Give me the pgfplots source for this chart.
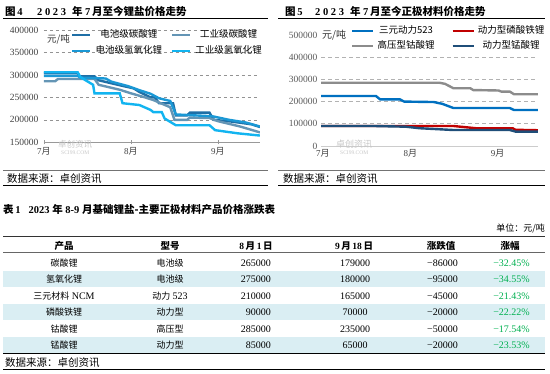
\documentclass[border=0pt]{standalone}
\usepackage{fontspec}
\setmainfont{Liberation Serif}
\newfontfamily\cjk{Noto Sans CJK SC}
\newfontfamily\wnum{Liberation Serif}[LetterSpace=25]
\usepackage{pgfplots}
\pgfplotsset{compat=1.18}
\definecolor{cA}{HTML}{1F6FA6}
\definecolor{cB}{HTML}{6495B5}
\definecolor{cC}{HTML}{1A98D5}
\definecolor{cD}{HTML}{12B4F0}
\definecolor{rA}{HTML}{0070C0}
\definecolor{rB}{HTML}{C00000}
\definecolor{rC}{HTML}{8C8C8C}
\definecolor{rD}{HTML}{1F4E79}
\definecolor{rowbg}{HTML}{DAEEF3}
\definecolor{upgreen}{HTML}{00B050}
\newcommand\zh[1]{{\cjk #1}}
\newcommand\zhb[1]{{\cjk\bfseries #1}}
\newcommand\tb{\fontsize{9}{10}\selectfont\cjk}
\newcommand\tn{\fontsize{10}{11}\selectfont}
\begin{document}
\begin{tikzpicture}[x=1pt,y=1pt]
\useasboundingbox (0,0) rectangle (550,374);
% ---------- panel titles ----------
\begin{scope}[every node/.style={inner sep=0pt,font=\fontsize{10.5}{12}\selectfont\bfseries}]
\node[anchor=base west] at (5,358) {\zhb{图}\,4};
\node[anchor=base west] at (37,358) {\wnum\bfseries 2023};
\node[anchor=base west] at (72,358) {\zhb{年}};
\node[anchor=base west] at (85,358) {7};
\node[anchor=base west] at (92,358) {\zhb{月至今锂盐价格走势}};
\node[anchor=base west] at (285,358) {\zhb{图}\,5};
\node[anchor=base west] at (315,358) {\wnum\bfseries 2023};
\node[anchor=base west] at (350,358) {\zhb{年}};
\node[anchor=base west] at (363,358) {7};
\node[anchor=base west] at (370,358) {\zhb{月至今正极材料价格走势}};
\end{scope}
\draw[black,line width=0.8pt] (3,355.7) -- (268,355.7);
\draw[black,line width=0.8pt] (278,355.7) -- (545,355.7);
% ---------- left chart ----------
\begin{axis}[
  at={(44pt,231.7pt)}, anchor=south west, scale only axis,
  width=216pt, height=112.3pt,
  xmin=0, xmax=77, ymin=150000, ymax=400000,
  scaled y ticks=false,
  axis lines*=left,
  y axis line style={draw=none},
  x axis line style={draw=gray!80, line width=0.6pt},
  ytick={150000,200000,250000,300000,350000,400000},
  yticklabels={150000,200000,250000,300000,350000,400000},
  ytick style={draw=none},
  xtick={0,31,62},
  xticklabels={7\zh{月},8\zh{月},9\zh{月}},
  xtick style={draw=gray!80, line width=0.6pt},
  tick align=center, major tick length=4pt,
  ymajorgrids,
  grid style={gray!85, line width=0.6pt, dash pattern=on 3pt off 3pt},
  yticklabel style={font=\fontsize{9.5}{10}\selectfont, text=black!75},
  xticklabel style={font=\fontsize{9}{10}\selectfont, text=black!75},
  legend columns=2,
  legend style={at={(axis description cs:0.125,1.005)}, anchor=north west,
    draw=none, fill=none, inner sep=0pt, row sep=5pt,
    font=\fontsize{9.5}{10}\selectfont,
    nodes={inner sep=1pt, text height=7pt, text depth=2pt},
    /tikz/every odd column/.append style={column sep=3pt},
    /tikz/every even column/.append style={column sep=8pt}},
  legend image code/.code={\draw[#1] (0pt,0pt) -- (18pt,0pt);},
  every axis plot/.append style={line width=2.4pt, line join=miter}
]
\addplot[cA] coordinates {(0,304000)(12,304000)(12.5,297000)(18,297000)(19.5,288000)(27,277000)(32,270000)(34,262000)(38,250000)(39.5,250000)(41,237000)(46,237000)(47,210000)(51,210000)(52,216000)(59,216000)(60.5,200000)(67,196000)(74,190000)(77,184000)};
\addlegendentry{\zh{电池级碳酸锂}}
\addplot[cB] coordinates {(0,286000)(4,286000)(5,291000)(18,291000)(19.5,278000)(27,267000)(31,259000)(36,250000)(39,244000)(42,236000)(45,228000)(46.5,200000)(51,200000)(52,205000)(59,204000)(62,197000)(70,185000)(77,172000)};
\addlegendentry{\zh{工业级碳酸锂}}
\addplot[cC] coordinates {(0,298000)(12,298000)(13,294000)(22,292000)(24,285000)(30,275000)(34,266000)(38,258000)(41,248000)(45,242000)(47,212000)(60,208000)(66,200000)(72,194000)(77,185000)};
\addlegendentry{\zh{电池级氢氧化锂}}
\addplot[cD] coordinates {(0,306000)(12,306000)(13,295000)(17.5,278000)(18,259000)(27,259000)(28,237000)(34,233000)(38,222000)(39,217000)(42,217000)(43,203000)(47,188000)(59,188000)(61,177000)(69,170000)(77,165000)};
\addlegendentry{\zh{工业级氢氧化锂}}
\end{axis}
\node[anchor=base west, inner sep=0pt, font=\fontsize{9.5}{10}\selectfont, text=black!80] at (47,331) {\zh{元/吨}};
\node[anchor=base west, inner sep=0pt, font=\fontsize{8.5}{9}\selectfont, text=black!22] at (58,226) {\zh{卓创资讯}};
\node[anchor=base west, inner sep=0pt, font=\fontsize{5.5}{6}\selectfont, text=black!22] at (61,219.5) {SCI99.COM};
% ---------- right chart ----------
\begin{axis}[
  at={(321pt,228pt)}, anchor=south west, scale only axis,
  width=217pt, height=111pt,
  xmin=0, xmax=77, ymin=0, ymax=500000,
  scaled y ticks=false,
  axis lines*=left,
  y axis line style={draw=none},
  x axis line style={draw=black!20, line width=0.8pt},
  ytick={100000,200000,300000,400000},
  yticklabels={100000,200000,300000,400000},
  extra y ticks={0,500000},
  extra y tick labels={0,500000},
  extra y tick style={ymajorgrids=false},
  ytick style={draw=none},
  xtick={0.7,31.7,62.7},
  xticklabels={7\zh{月},8\zh{月},9\zh{月}},
  xtick style={draw=none},
  ymajorgrids,
  grid style={black!30, line width=0.6pt, dash pattern=on 4pt off 3pt},
  yticklabel style={font=\fontsize{9.5}{10}\selectfont, text=black!65},
  xticklabel style={font=\fontsize{9}{10}\selectfont, text=black!75},
  legend columns=2,
  legend style={at={(axis description cs:0.138,1.088)}, anchor=north west,
    draw=none, fill=none, inner sep=0pt, row sep=4pt,
    font=\fontsize{9.5}{10}\selectfont,
    nodes={inner sep=1pt, text height=7pt, text depth=2pt},
    /tikz/every odd column/.append style={column sep=2pt},
    /tikz/every even column/.append style={column sep=16pt}},
  legend image code/.code={\draw[#1] (0pt,0pt) -- (21pt,0pt);},
  every axis plot/.append style={line width=2.4pt}
]
\addplot[rA] coordinates {(0,225000)(19.5,225000)(21,210000)(28,210000)(29.5,200000)(40,198000)(43,190000)(47,171000)(67,171000)(68.5,162000)(77,162000)};
\addlegendentry{\zh{三元动力523}}
\addplot[rB] coordinates {(0,90000)(47,90000)(55,80000)(68,80000)(69,73000)(77,71000)};
\addlegendentry{\zh{动力型磷酸铁锂}}
\addplot[rC] coordinates {(0,285000)(42,285000)(44,280000)(47,260000)(53,260000)(54,252000)(63,250000)(64,245000)(67,245000)(68.5,233000)(77,233000)};
\addlegendentry{\zh{高压型钴酸锂}}
\addplot[rD] coordinates {(0,90000)(19,90000)(30,87000)(35,80000)(47,72000)(67,72000)(69,65000)(77,65000)};
\addlegendentry{\zh{动力型锰酸锂}}
\end{axis}
\node[anchor=base west, inner sep=0pt, font=\fontsize{10}{11}\selectfont, text=black!80] at (322,335.5) {\zh{元/吨}};
\node[anchor=base west, inner sep=0pt, font=\fontsize{9}{10}\selectfont, text=black!22] at (336,226) {\zh{卓创资讯}};
\node[anchor=base west, inner sep=0pt, font=\fontsize{5.5}{6}\selectfont, text=black!22] at (340,219.5) {SCI99.COM};
% ---------- panel sources ----------
\draw[black!55,line width=0.7pt] (3,204) -- (268,204);
\draw[black!55,line width=0.7pt] (278,204) -- (545,204);
\node[anchor=base west, inner sep=0pt, font=\fontsize{10.5}{11}\selectfont] at (7,191.4) {\zh{数据来源：卓创资讯}};
\node[anchor=base west, inner sep=0pt, font=\fontsize{10.5}{11}\selectfont] at (283,191.4) {\zh{数据来源：卓创资讯}};
\draw[black,line width=1pt] (3,188) -- (268,188);
\draw[black,line width=1pt] (278,188) -- (545,188);
% ---------- table ----------
\node[anchor=base west, inner sep=0pt, font=\fontsize{10.5}{12}\selectfont\bfseries] at (3,160.5) {\zhb{表}\,1\hspace{8pt}2023 \zhb{年} 8-9 \zhb{月基础锂盐-主要正极材料产品价格涨跌表}};
\node[anchor=base east, inner sep=0pt, font=\fontsize{9}{10}\selectfont] at (545,142.6) {\zh{单位：元/吨}};
\fill[rowbg] (3,103) rectangle (545,86.5);
\fill[rowbg] (3,70) rectangle (545,53.5);
\fill[rowbg] (3,36.8) rectangle (545,20);
\draw[black!80,line width=0.8pt] (3,137.3) -- (545,137.3);
\draw[black!60,line width=0.6pt] (3,121.5) -- (545,121.5);
\begin{scope}[every node/.style={inner sep=0pt, font=\fontsize{9.5}{10}\selectfont\bfseries, anchor=base}]
\node at (64,124.5) {\zhb{产品}};
\node at (170,124.5) {\zhb{型号}};
\node at (256,124.5) {8\,\zhb{月}\,1\,\zhb{日}};
\node at (354,124.5) {9\,\zhb{月}\,18\,\zhb{日}};
\node at (441,124.5) {\zhb{涨跌值}};
\node at (510,124.5) {\zhb{涨幅}};
\end{scope}
\begin{scope}[every node/.style={inner sep=0pt}]
% row 1
\node[anchor=base] at (64,107.9) {\tb 碳酸锂};
\node[anchor=base] at (170,107.9) {\tb 电池级};
\node[anchor=base east] at (271,107.9) {\tn 265000};
\node[anchor=base] at (355,107.9) {\tn 179000};
\node[anchor=base east] at (458,107.9) {\tn −86000};
\node[anchor=base east] at (530,107.9) {\tn\color{upgreen}−32.45\%};
% row 2
\node[anchor=base] at (64,91.4) {\tb 氢氧化锂};
\node[anchor=base] at (170,91.4) {\tb 电池级};
\node[anchor=base east] at (271,91.4) {\tn 275000};
\node[anchor=base] at (355,91.4) {\tn 180000};
\node[anchor=base east] at (458,91.4) {\tn −95000};
\node[anchor=base east] at (530,91.4) {\tn\color{upgreen}−34.55\%};
% row 3
\node[anchor=base] at (64,74.9) {{\tb 三元材料} {\tn NCM}};
\node[anchor=base] at (170,74.9) {{\tb 动力} {\tn 523}};
\node[anchor=base east] at (271,74.9) {\tn 210000};
\node[anchor=base] at (355,74.9) {\tn 165000};
\node[anchor=base east] at (458,74.9) {\tn −45000};
\node[anchor=base east] at (530,74.9) {\tn\color{upgreen}−21.43\%};
% row 4
\node[anchor=base] at (64,58.4) {\tb 磷酸铁锂};
\node[anchor=base] at (170,58.4) {\tb 动力型};
\node[anchor=base east] at (271,58.4) {\tn 90000};
\node[anchor=base] at (355,58.4) {\tn 70000};
\node[anchor=base east] at (458,58.4) {\tn −20000};
\node[anchor=base east] at (530,58.4) {\tn\color{upgreen}−22.22\%};
% row 5
\node[anchor=base] at (64,41.8) {\tb 钴酸锂};
\node[anchor=base] at (170,41.8) {\tb 高压型};
\node[anchor=base east] at (271,41.8) {\tn 285000};
\node[anchor=base] at (355,41.8) {\tn 235000};
\node[anchor=base east] at (458,41.8) {\tn −50000};
\node[anchor=base east] at (530,41.8) {\tn\color{upgreen}−17.54\%};
% row 6
\node[anchor=base] at (64,25.0) {\tb 锰酸锂};
\node[anchor=base] at (170,25.0) {\tb 动力型};
\node[anchor=base east] at (271,25.0) {\tn 85000};
\node[anchor=base] at (355,25.0) {\tn 65000};
\node[anchor=base east] at (458,25.0) {\tn −20000};
\node[anchor=base east] at (530,25.0) {\tn\color{upgreen}−23.53\%};
\end{scope}
\draw[black,line width=1pt] (3,20) -- (545,20);
\node[anchor=base west, inner sep=0pt, font=\fontsize{10.5}{11}\selectfont] at (5,7.5) {\zh{数据来源：卓创资讯}};
\draw[black,line width=1pt] (3,4) -- (545,4);
\end{tikzpicture}
\end{document}
